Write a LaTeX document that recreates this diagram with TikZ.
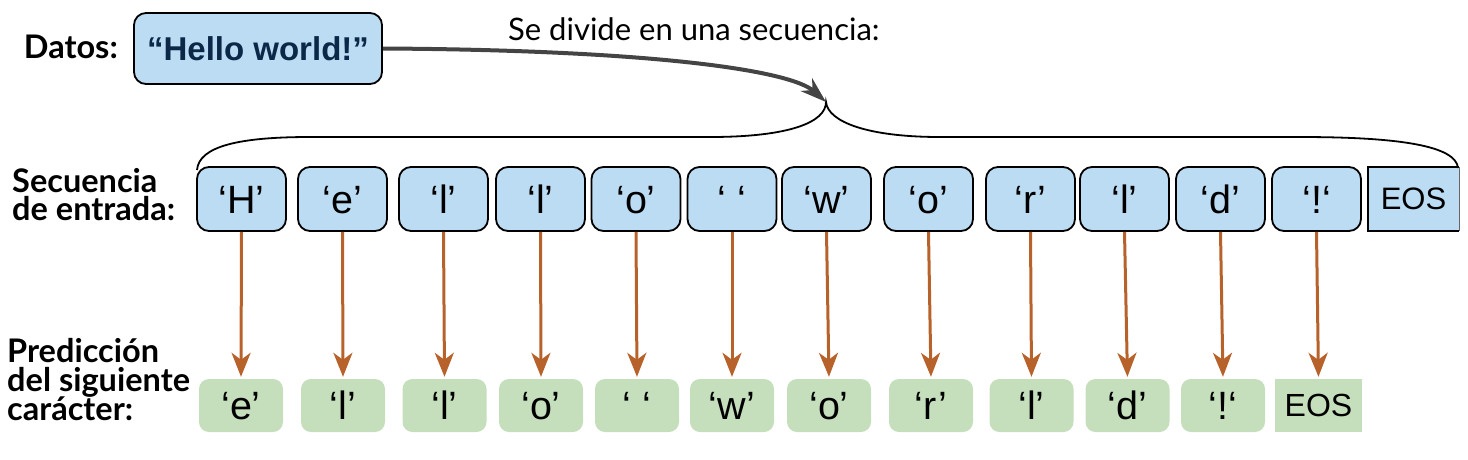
\documentclass[tikz,border=0pt]{standalone}
\usepackage{fontspec}
\setmainfont{Liberation Sans}
\newfontfamily\labfont{Lato}
\usetikzlibrary{arrows.meta}
\definecolor{boxblue}{RGB}{188,220,243}
\definecolor{outgreen}{RGB}{197,223,188}
\definecolor{arrowbrown}{RGB}{183,98,42}
\definecolor{arrowgray}{RGB}{68,68,68}
\definecolor{navy}{RGB}{12,40,72}
\begin{document}
\begin{tikzpicture}[x=1pt,y=-1pt,
  inbox/.style={draw=black, line width=1.8pt, fill=boxblue, rounded corners=12pt,
    minimum width=89pt, minimum height=64pt, inner sep=0pt, text height=28pt, text depth=0pt,
    font=\fontsize{39.5}{42}\selectfont},
  outbox/.style={fill=outgreen, rounded corners=10pt, minimum width=84pt, minimum height=53pt,
    inner sep=0pt, text height=28pt, text depth=0pt, font=\fontsize{39.5}{42}\selectfont},
  predarrow/.style={draw=arrowbrown, line width=3pt, shorten >=2pt,
    -{Stealth[length=24pt,width=19pt,inset=7pt]}},
  labtext/.style={font=\labfont\bfseries\fontsize{32.5}{33}\selectfont, inner sep=0pt},
  plaintext/.style={font=\labfont\fontsize{31}{32}\selectfont, inner sep=0pt}
]
\useasboundingbox (0,0) rectangle (1468,459);

% data box
\node[draw=black, line width=1.8pt, fill=boxblue, rounded corners=12pt, minimum width=248pt,
  minimum height=71pt, inner sep=0pt, text=navy, font=\bfseries\fontsize{33}{36}\selectfont]
  (data) at (258,48.5) {“Hello world!”};
\node[labtext, anchor=base east] (datos) at (118,58) {Datos:};
\node[plaintext, anchor=base west] (divide) at (508,40) {Se divide en una secuencia:};

% row labels
\node[labtext, anchor=base west] (seq) at (12,192)
  {\vtop{\baselineskip=28pt\lineskiplimit=-1000pt\hbox{Secuencia}\hbox{de entrada:}}};
\node[labtext, anchor=base west] (pred) at (7,362)
  {\vtop{\baselineskip=29pt\lineskiplimit=-1000pt\hbox{Predicción}\hbox{del siguiente}\hbox{carácter:}}};

% input sequence
\foreach \i/\x/\t in {1/241.5/{‘H’}, 2/342.5/{‘e’}, 3/443.5/{‘l’}, 4/540.5/{‘l’},
  5/636/{‘o’}, 6/732/{‘ ‘}, 7/826.5/{‘w’}, 8/928.5/{‘o’}, 9/1030.5/{‘r’},
  10/1124.5/{‘l’}, 11/1220.5/{‘d’}, 12/1316.5/{‘!‘}}
  {\node[inbox] (in\i) at (\x,199) {\t};}
\node[fill=boxblue, minimum width=91pt, minimum height=64pt, inner sep=0pt,
  font=\fontsize{31}{33}\selectfont] (in13) at (1413.5,199) {EOS};
\draw[line width=1.8pt] (in13.north east) -- (in13.north west) -- (in13.south west) -- (in13.south east);
\draw[line width=0.6pt, black!60] (in13.north east) -- (in13.south east);

% output sequence
\foreach \i/\x/\t in {1/241/{‘e’}, 2/343/{‘l’}, 3/444.5/{‘l’}, 4/541/{‘o’},
  5/637/{‘ ‘}, 6/732/{‘w’}, 7/829/{‘o’}, 8/931/{‘r’}, 9/1031.5/{‘l’},
  10/1127.5/{‘d’}, 11/1223/{‘!‘}}
  {\node[outbox] (out\i) at (\x,405.5) {\t};}
\node[fill=outgreen, minimum width=87pt, minimum height=53pt, inner sep=0pt,
  font=\fontsize{32}{34}\selectfont] (out12) at (1318.5,405.5) {EOS};

\foreach \i in {1,...,12}
  {\draw[predarrow] (in\i.south) -- (out\i.north);}

% brace and arrow
\coordinate (tip) at (826,102);
\draw[line width=1.8pt] (197,170) .. controls (199,146) and (240,137) .. (310,137) -- (710,137)
  .. controls (790,137) and (826,122) .. (tip)
  .. controls (828,122) and (868,137) .. (940,137) -- (1300,137)
  .. controls (1400,137) and (1456,146) .. (1458,168);
\draw[line width=4pt, arrowgray, -{Stealth[length=26pt,width=17pt,inset=8pt]}]
  (data.east) .. controls (650,50) and (790,70) .. (tip);
\end{tikzpicture}
\end{document}
